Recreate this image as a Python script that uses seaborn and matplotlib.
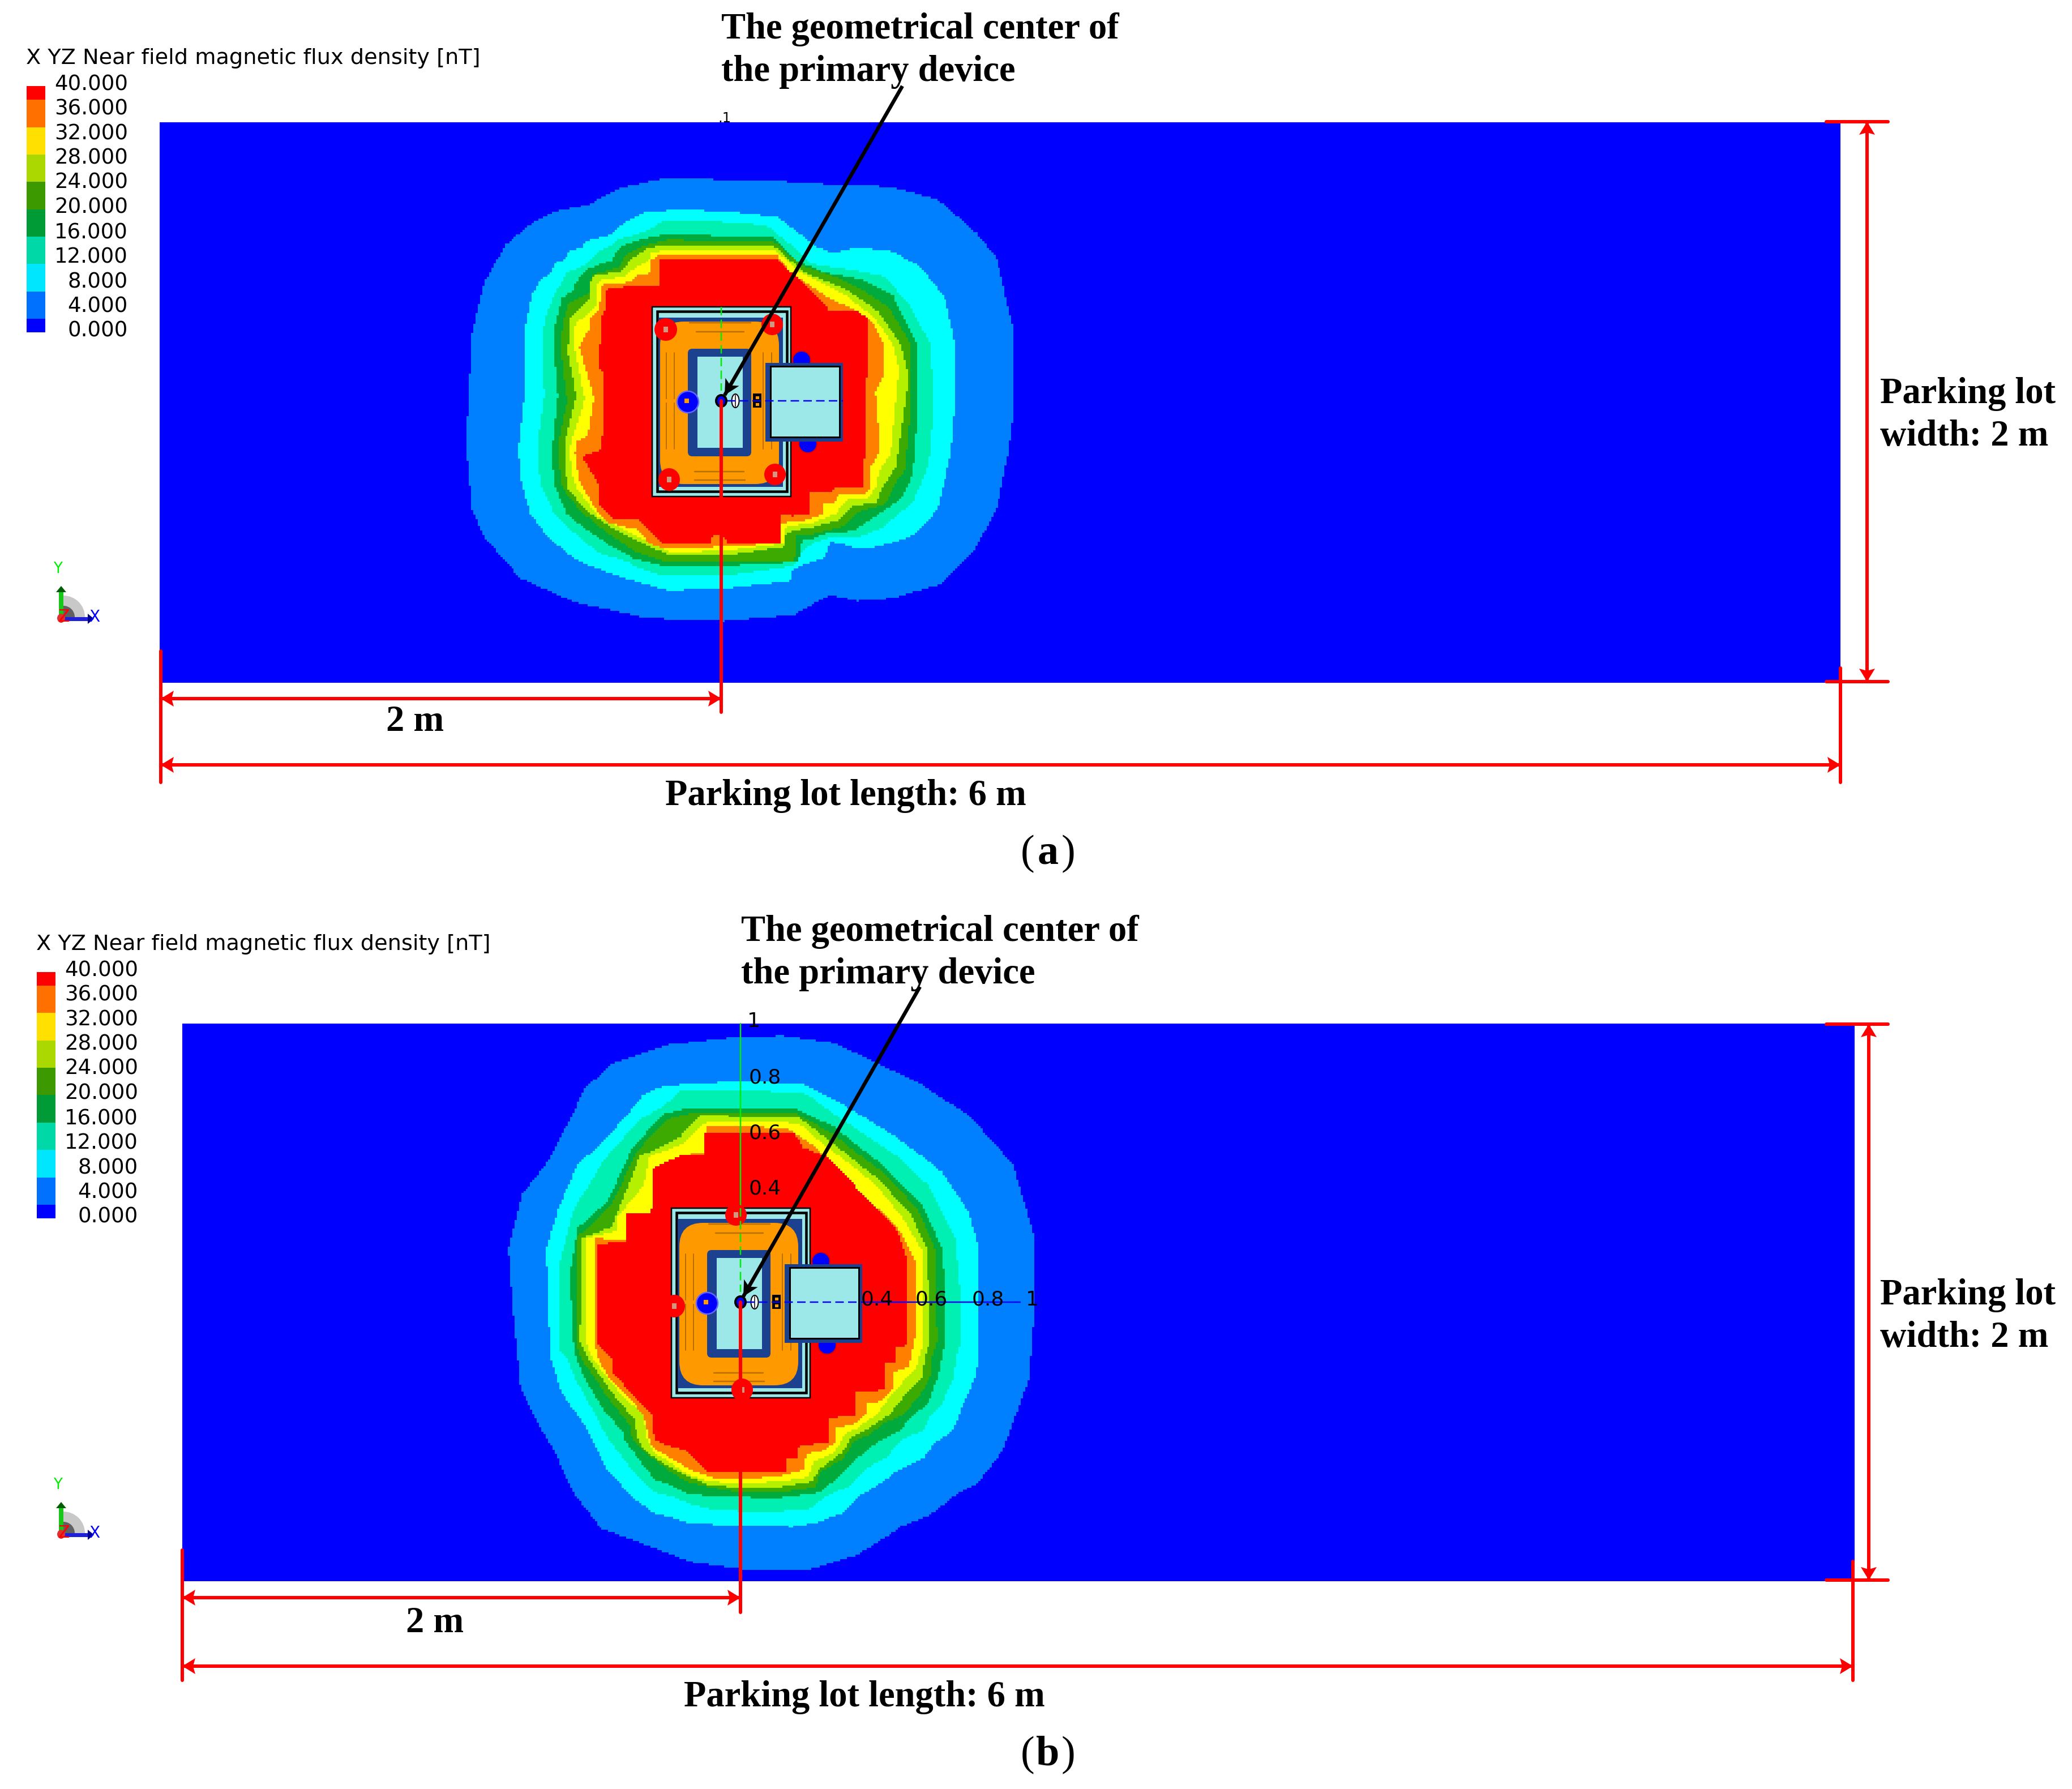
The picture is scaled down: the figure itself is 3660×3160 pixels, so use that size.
import numpy as np
import pandas as pd
import seaborn as sns
import matplotlib
matplotlib.use("Agg")
import matplotlib.pyplot as plt
from matplotlib.colors import ListedColormap
from matplotlib.path import Path
from matplotlib.patches import Rectangle, FancyBboxPatch, Ellipse, Wedge, Polygon

sns.set_theme(style="white")
plt.rcParams['font.family'] = ['DejaVu Sans']

# ---------------- data ----------------
LEVEL_LABELS = ["40.000", "36.000", "32.000", "28.000", "24.000", "20.000", "16.000", "12.000", "8.000", "4.000", "0.000"]
MAP_COLOURS = ["#0000FF", "#0080FF", "#00FFFF", "#00F0B4", "#00AA3C", "#3CAA00", "#B4F000", "#FFFF00", "#FF8000", "#FF0000"]
KEY_COLOURS = ["#0000FF", "#0070FF", "#00E6FF", "#00D8A8", "#009A36", "#3C9A00", "#AAD800", "#FFE000", "#FF7000", "#FF0000"]
KEY_ROWS = [9, 8, 8, 7, 7, 6, 6, 5, 5, 4, 4, 3, 3, 2, 2, 1, 1, 0]


def za(p):  # reading frame of the upper view
    return [(750 + x / 1.4255, 280 + y / 1.823) for x, y in p]


def zb(p):  # reading frame of the lower view
    return [(800 + x / 1.4255, 1780 + y / 1.522) for x, y in p]


def c(ox, oy, p):  # close-up reading frame
    return [(ox + x / 3, oy + y / 3) for x, y in p]


A_4 = za([(600,65),(760,68),(880,72),(1040,85),(1170,90),(1290,130),(1390,240),(1440,320),(1485,560),(1485,800),(1470,950),(1440,1130),(1380,1270),(1300,1370),(1180,1415),(1090,1425),(1020,1405),(930,1470),(750,1490),(560,1480),(380,1430),(240,1350),(150,1220),(120,1130),(105,920),(120,560),(150,400),(205,275),(280,200),(330,170),(410,150),(490,95)])
A_8 = za([(550,175),(640,165),(770,172),(890,190),(990,285),(1030,305),(1090,285),(1180,300),(1250,350),(1310,450),(1335,590),(1335,800)]) \
    + c(1400,800,[(840,0),(800,170),(770,290),(720,360),(640,430),(580,460),(460,495),(350,510),(270,485),(200,470),(165,560),(60,590),(0,620)]) \
    + za([(920,1360),(750,1385),(610,1390),(500,1350)]) \
    + c(880,700,[(140,0),(125,130),(110,260),(115,420),(170,620),(260,740),(350,820),(440,880),(490,900)][::-1]) \
    + c(880,400,[(140,900),(140,600),(150,500),(170,400),(180,360),(220,290),(280,245),(300,195),(350,175),(380,125),(440,115),(470,75),(590,45),(640,0)])
A_12 = za([(590,205),(700,200),(860,215),(935,290),(975,340),(1080,360),(1160,380),(1220,470),(1275,600),(1280,800)]) \
    + c(1400,800,[(730,0),(710,90),(635,270),(555,330),(470,400),(350,445),(210,440),(105,480),(50,530),(20,590),(0,600)]) \
    + za([(750,1345),(600,1345)]) \
    + c(880,700,[(245,0),(225,130),(210,240),(210,350),(230,480),(295,620),(400,720),(530,830),(700,880),(720,900)][::-1]) \
    + c(880,400,[(245,900),(232,700),(232,570),(255,470),(300,350),(340,290),(355,250),(440,215),(500,170),(530,130),(600,100),(630,70),(740,40),(790,20),(830,0)])
A_16 = za([(880,255),(940,330),(1000,365),(1100,390),(1180,440),(1240,600),(1240,800)]) \
    + c(1400,800,[(650,0),(630,130),(580,240),(495,300),(400,360),(320,415),(190,420),(100,455),(50,465),(40,540),(20,580),(0,580)]) \
    + za([(750,1312),(650,1310)]) \
    + c(880,700,[(315,0),(295,180),(285,300),(295,470),(360,620),(460,700),(590,790),(720,860),(860,895)][::-1]) \
    + c(880,400,[(315,900),(300,720),(300,520),(330,400),(335,380),(400,340),(410,300),(465,230),(600,180),(640,110),(750,70),(870,45),(900,40)])
A_20 = za([(880,268),(950,345),(1040,385),(1100,420),(1170,480),(1225,600),(1225,800)]) \
    + c(1400,800,[(605,0),(595,90),(540,170),(495,270),(355,310),(270,390),(100,430),(20,440),(20,545),(0,575)]) \
    + za([(750,1295)]) \
    + c(880,700,[(370,0),(325,210),(320,340),(340,490),(440,610),(560,710),(720,820),(900,880)][::-1]) \
    + c(880,400,[(360,900),(330,640),(340,520),(370,410),(480,355),(495,260),(640,215),(680,150),(770,100),(900,70)])
A_24 = za([(880,282),(960,370),(1060,420),(1140,490),(1200,600),(1220,700)]) \
    + c(1400,800,[(560,0),(550,70),(495,150),(470,200),(440,265),(320,280),(250,355),(100,395),(0,412)]) \
    + za([(910,1210),(910,1250),(750,1280)]) \
    + c(880,700,[(415,0),(350,250),(350,350),(370,490),(470,610),(590,690),(790,790),(900,840)][::-1]) \
    + c(880,400,[(415,900),(370,660),(385,480),(480,385),(490,300),(510,260),(650,240),(710,170),(800,110),(900,100)])
A_28 = za([(885,298),(945,365),(1060,440),(1130,510),(1180,600),(1195,680)]) \
    + c(1400,800,[(520,0),(455,100),(445,180),(400,240),(290,250),(230,320),(110,370),(0,385)]) \
    + za([(905,1190),(905,1240),(750,1265)]) \
    + c(880,700,[(465,0),(380,270),(390,400),(420,490),(530,640),(630,690),(790,770),(900,825)][::-1]) \
    + c(880,400,[(455,900),(400,610),(410,520),(520,420),(520,310),(550,280),(660,270),(750,205),(800,180),(810,140),(900,120)])
A_32 = za([(888,312),(920,365),(1020,450),(1090,490),(1130,530),(1155,600),(1155,700),(1135,750),(1145,900)]) \
    + c(1400,800,[(460,0),(415,70),(415,190),(380,215),(250,220),(215,265),(160,270),(160,325),(60,360),(0,365)]) \
    + za([(895,1175),(895,1240),(750,1250)]) \
    + c(880,700,[(510,0),(475,210),(420,240),(408,300),(430,450),(530,620),(580,670),(740,705),(800,780),(870,805),(900,810)][::-1]) \
    + c(880,400,[(505,900),(430,635),(490,530),(490,480),(535,445),(545,335),(555,310),(700,295),(740,255),(800,255),(805,180),(855,150),(900,150)])
A_36 = za([(888,325),(970,420),(1020,490),(1090,490),(1115,515),(1115,700),(1110,720),(1110,900)]) \
    + c(1400,800,[(390,0),(378,40),(375,185),(225,188),(210,208),(92,210),(92,330),(0,333)]) \
    + za([(895,1150),(895,1240),(765,1240),(745,1210),(725,1210),(722,1240),(650,1240)]) \
    + c(880,700,[(555,0),(555,170),(545,285),(445,320),(530,460),(540,580),(600,645),(740,650),(880,785),(900,785)][::-1]) \
    + c(880,400,[(552,900),(552,770),(530,740),(530,640),(550,605),(550,475),(570,425),(575,335),(730,310),(855,310),(855,175),(900,172)])

B_4 = zb([(700,80),(830,75),(960,95),(1070,150),(1170,200),(1300,290),(1410,420),(1465,620),(1465,800),(1450,1000),(1385,1190)]) \
    + c(1300,2400,[(1350,570),(1280,660),(1180,710),(1100,775),(1020,830),(870,890),(865,900)]) \
    + zb([(1020,1470),(900,1510),(730,1510),(600,1490),(450,1430)]) \
    + c(980,2400,[(245,900),(170,800),(110,730),(50,610),(0,490)]) \
    + zb([(220,1130),(170,1020),(150,800),(140,650),(175,500),(235,420),(300,290),(330,220),(400,150),(540,100)])
B_8 = zb([(720,198),(880,205),(990,265),(1120,350),(1230,440),(1300,550),(1325,650),(1325,900)]) \
    + c(1300,2400,[(1285,0),(1270,100),(1200,250),(1150,380),(1050,450),(990,530),(860,590),(750,670),(650,730),(560,820),(420,870),(300,890),(110,885),(0,880)]) \
    + c(980,2400,[(975,885),(790,875),(690,865),(640,845),(530,820),(420,740),(380,700),(280,590),(200,430),(150,340),(30,170),(0,60)]) \
    + zb([(245,940),(235,650),(265,540),(315,420),(380,360),(480,235),(530,210)])
B_12 = zb([(720,220),(890,232),(980,300),(1120,400),(1200,480),(1265,620),(1280,800),(1280,900)]) \
    + c(1300,2400,[(1165,0),(1155,100),(1090,240),(1030,300),(990,380),(880,430),(800,520),(680,590),(590,680),(480,730),(380,800),(110,815),(0,810)]) \
    + c(980,2400,[(975,805),(830,800),(720,770),(620,730),(530,710),(410,590),(280,420),(160,200),(120,130),(65,0)]) \
    + zb([(265,920),(265,700),(305,540),(380,410),(470,300),(530,265),(570,225)])
B_16 = zb([(860,270),(960,320),(1090,430),(1180,530),(1235,650),(1240,900)]) \
    + c(1300,2400,[(1090,0),(1070,100),(1020,235),(940,300),(870,380),(770,430),(700,480),(610,560),(530,640),(440,710),(250,735),(140,745),(70,735),(0,730)]) \
    + c(980,2400,[(975,732),(820,730),(680,710),(640,680),(530,640),(450,540),(370,430),(360,390),(260,270),(170,130),(115,0)]) \
    + zb([(305,920),(295,720),(315,590),(390,520),(450,380),(530,285),(600,268)])
B_20 = zb([(860,282),(950,335),(1080,440),(1170,540),(1215,650),(1220,900)]) \
    + c(1300,2400,[(1035,0),(1030,100),(970,200),(880,300),(790,340),(700,405),(620,440),(570,530),(450,600),(420,680),(300,700),(0,710)]) \
    + c(980,2400,[(975,708),(810,680),(700,650),(600,590),(470,490),(410,430),(395,350),(270,190),(140,0)]) \
    + zb([(310,900),(310,620),(400,530),(460,390),(540,300),(610,280)])
B_24 = zb([(870,295),(940,350),(1070,460),(1150,550),(1195,650),(1200,900)]) \
    + c(1300,2400,[(1000,0),(985,100),(890,200),(810,300),(700,370),(610,420),(560,500),(440,590),(400,650),(230,680),(0,682)]) \
    + c(980,2400,[(975,682),(820,670),(700,620),(600,570),(505,510),(445,440),(420,320),(320,200),(175,0)]) \
    + zb([(320,900),(325,620),(400,590),(470,400),(570,350),(620,290)])
B_28 = zb([(870,310),(930,365),(1060,470),(1130,560),(1185,660),(1185,900)]) \
    + c(1300,2400,[(965,0),(955,50),(880,130),(800,220),(740,300),(640,370),(575,400),(520,500),(410,545),(385,625),(250,650),(0,658)]) \
    + c(980,2400,[(975,658),(820,650),(710,615),(610,550),(530,500),(490,420),(465,290),(360,200),(200,0)]) \
    + zb([(335,900),(335,620),(415,600),(415,560),(480,480),(495,400),(580,365),(640,305)])
B_32 = zb([(840,322),(920,380),(1030,500),(1120,590),(1165,680),(1165,880)]) \
    + c(1300,2400,[(925,0),(915,40),(835,75),(835,155),(770,225),(690,235),(690,295),(620,350),(525,365),(525,440),(475,485),(375,505),(355,590),(210,628),(0,632)]) \
    + c(980,2400,[(975,632),(840,630),(730,595),(680,565),(530,480),(505,440),(475,310),(440,260),(290,100),(230,0)]) \
    + zb([(355,900),(355,640),(360,620),(435,625),(435,555),(500,550),(505,430),(580,395),(635,390),(640,320)])
B_36 = zb([(635,335),(860,335),(880,375),(940,400),(1060,530),(1120,600),(1145,680),(1145,908),(1115,915),(1115,955)]) \
    + c(1300,2400,[(785,25),(785,165),(640,180),(640,300),(490,315),(487,445),(335,460),(325,530),(265,535),(265,600),(0,603)]) \
    + c(980,2400,[(975,603),(810,603),(685,480),(620,465),(535,435),(525,400),(515,290),(380,155),(305,70),(305,0)]) \
    + zb([(365,905),(365,635),(435,630),(435,555),(500,550),(505,430),(580,395),(635,395)])

A_OUTLINES = [A_4, A_8, A_12, A_16, A_20, A_24, A_28, A_32, A_36]
B_OUTLINES = [B_4, B_8, B_12, B_16, B_20, B_24, B_28, B_32, B_36]

LOT_LENGTH_M = 6.0
LOT_WIDTH_M = 2.0
CELL_M = 0.008

PLOT_TICKS_Y = ["0.8", "0.6", "0.4"]
PLOT_TICKS_X = ["0.4", "0.6", "0.8", "1"]

W, H = 3660, 3160
fig = plt.figure(figsize=(W / 100, H / 100), dpi=100, facecolor="white")
PT = 0.72


def px_axes(x0, y0, x1, y1, **kw):
    return fig.add_axes([x0 / W, 1 - y1 / H, (x1 - x0) / W, (y1 - y0) / H], **kw)


def field_from_outlines(outlines, lot):
    x0, y0, x1, y1 = lot
    nx, ny = int(round(LOT_LENGTH_M / CELL_M)), int(round(LOT_WIDTH_M / CELL_M))
    xs = (np.arange(nx) + 0.5) * CELL_M
    ys = (np.arange(ny) + 0.5) * CELL_M
    gx, gy = np.meshgrid(xs, ys)
    pts = np.column_stack([gx.ravel(), gy.ravel()])
    field = np.zeros(gx.shape, dtype=int)
    for i, outline in enumerate(outlines):
        px = np.asarray(outline, float)
        metres = np.column_stack([(px[:, 0] - x0) / (x1 - x0) * LOT_LENGTH_M,
                                  (px[:, 1] - y0) / (y1 - y0) * LOT_WIDTH_M])
        inside = Path(metres).contains_points(pts).reshape(gx.shape)
        field[inside] = i + 1
    return pd.DataFrame(field, index=ys, columns=xs)


def draw_lot(outlines, lot):
    ax = px_axes(*lot)
    sns.heatmap(field_from_outlines(outlines, lot), ax=ax, cmap=ListedColormap(MAP_COLOURS),
                vmin=-0.5, vmax=9.5, cbar=False, xticklabels=False, yticklabels=False, rasterized=True)
    ax.set_xlabel("")
    ax.set_ylabel("")


def draw_key(dx, dy):
    ax = px_axes(47 + dx, 152 + dy, 80 + dx, 587 + dy)
    rows = pd.DataFrame({"level": KEY_ROWS})
    sns.heatmap(rows, ax=ax, cmap=ListedColormap(KEY_COLOURS), vmin=-0.5, vmax=9.5, cbar=False,
                xticklabels=False, yticklabels=False)
    ax.set_xlabel("")
    ax.set_ylabel("")


draw_lot(A_OUTLINES, (282, 216, 3251, 1206))
draw_lot(B_OUTLINES, (322, 1808, 3276, 2793))

draw_key(0, 0)
draw_key(18, 1565)

ov = fig.add_axes([0, 0, 1, 1], facecolor="none")
ov.set_xlim(0, W)
ov.set_ylim(H, 0)
ov.axis("off")

NAVY = "#1C418F"
PALE = "#9CE8E8"
ORANGE = "#FF9900"
DORANGE = "#B87000"


def rect(cx, cy, l, r, t, b, fc, ec="none", lw=0, z=5):
    ov.add_patch(Rectangle((cx + l, cy + t), r - l, b - t, fc=fc, ec=ec, lw=lw * PT, zorder=z))


def rrect(cx, cy, l, r, t, b, rad, fc, z=5):
    ov.add_patch(FancyBboxPatch((cx + l + rad, cy + t + rad), r - l - 2 * rad, b - t - 2 * rad,
                                boxstyle=f"round,pad={rad},rounding_size={rad}", fc=fc, ec="none", zorder=z))


def dot(x, y, rx, ry, fc, ec="none", lw=0, z=7):
    ov.add_patch(Ellipse((x, y), 2 * rx, 2 * ry, fc=fc, ec=ec, lw=lw * PT, zorder=z))


def device(cx, cy, reds):
    rect(cx, cy, -122, 123, -166, 169, PALE, "black", 2.5)
    rect(cx, cy, -113, 116, -158, 160, PALE, "black", 4.5)
    rect(cx, cy, -111, 109, -147, 152, NAVY)
    rrect(cx, cy, -108, 102, -140, 147, 42, ORANGE, 6)
    for xr in (-97, -83, 74, 89):
        ov.plot([cx + xr] * 2, [cy - 85, cy + 85], color=DORANGE, lw=2 * PT, zorder=7)
    for yr, l, r in ((-122, -44, 40), (-138, -56, 52), (125, -47, 40), (140, -47, 42)):
        ov.plot([cx + l, cx + r], [cy + yr] * 2, color=DORANGE, lw=2.5 * PT, zorder=7)
    rrect(cx, cy, -59, 53, -92, 98, 8, NAVY, 7)
    rect(cx, cy, -42, 38, -78, 83, PALE, z=8)
    rect(cx, cy, -108, -64, -3, 3, ORANGE, z=8)
    dot(cx - 59, cy + 2, 19, 19, "#0000FF", "#6666FF", 2.5, 8)
    rect(cx, cy, -65, -57, -4, 4, ORANGE, z=9)
    for (rx, ry, a, b) in reds:
        dot(cx + rx, cy + ry, a, b, "#FF0000", z=9)
        rect(cx, cy, rx - 4, rx + 4, ry - 5, ry + 5, "#D09880", z=10)
    dot(cx + 142, cy - 72, 16, 16, "#0000FF", "#E00000", 2, 7)
    dot(cx + 153, cy + 76, 16, 16, "#0000FF", "#E00000", 2, 7)
    rect(cx, cy, 78, 215, -67, 72, NAVY, z=11)
    rect(cx, cy, 87, 209, -61, 64, PALE, "black", 3, 12)
    ov.plot([cx, cx], [cy - 166, cy - 18], color="#00EE00", lw=2.5 * PT, dashes=(6, 3), zorder=9)
    ov.plot([cx + 10, cx + 215], [cy, cy], color="#0000FF", lw=2.5 * PT, dashes=(6, 3), zorder=13)
    rect(cx, cy, 56, 71, -13, 12, "black", z=9)
    rect(cx, cy, 61, 67, -8, -3, ORANGE, z=10)
    rect(cx, cy, 61, 67, 4, 9, ORANGE, z=10)
    dot(cx + 25, cy, 6.5, 12, "white", "black", 2, 9)
    ov.plot([cx + 25, cx + 25], [cy - 10, cy + 10], color="black", lw=1.5 * PT, zorder=10)
    dot(cx, cy, 9, 10, "#0000FF", "black", 4, 14)


device(1274, 708, [(-98, -126, 20, 20), (90, -135, 19, 19), (-92, 139, 19, 20), (95, 130, 19, 19)])
device(1308, 2300, [(-8, -154, 19, 19), (-117, 7, 19, 20), (3, 155, 19, 20)])


def head(tip, tail, length, half, notch, colour, z):
    tip = np.array(tip, float)
    u = tip - np.array(tail, float)
    u /= np.hypot(*u)
    n = np.array([-u[1], u[0]])
    ov.add_patch(Polygon([tip, tip - u * length + n * half, tip - u * notch, tip - u * length - n * half],
                         closed=True, fc=colour, ec="none", zorder=z))


def red_line(xs, ys, z=15):
    ov.plot(xs, ys, color="#FF0000", lw=6 * PT, solid_capstyle="round", zorder=z)


def red_arrow(a, b):
    red_line([a[0], b[0]], [a[1], b[1]], 16)
    head(a, b, 23, 14, 19, "#FF0000", 16)
    head(b, a, 23, 14, 19, "#FF0000", 16)


def dimensions(left, centre, right, top, bottom, cy, left_top, right_top, low, two_y, two_low, len_y, vx):
    red_line([3226, 3335], [top, top])
    red_line([3226, 3335], [bottom, bottom])
    red_arrow((vx, top), (vx, bottom))
    red_line([left, left], [left_top, low])
    red_line([centre, centre], [cy, two_low])
    red_line([right, right], [right_top, low])
    red_arrow((left, two_y), (centre, two_y))
    red_arrow((left, len_y), (right, len_y))


dimensions(284, 1274, 3251, 215, 1204, 708, 1150, 1180, 1382, 1234, 1258, 1351, 3298)
dimensions(322, 1308, 3273, 1809, 2791, 2300, 2738, 2758, 2968, 2822, 2848, 2943, 3301)

SERIF = dict(family="Liberation Serif", fontweight="bold", color="black", zorder=20)
FS = 64.5 * PT


def caption(x, y, text, ha="left", **kw):
    ov.text(x, y + 3, text, ha=ha, va="center", fontsize=FS, **SERIF, **kw)


def black_arrow(tip, tail):
    ov.plot([tail[0], tip[0]], [tail[1], tip[1]], color="black", lw=6.5 * PT, solid_capstyle="butt", zorder=18)
    head(tip, tail, 27, 14, 20, "black", 18)


def panel_letter(x, y, letter):
    ov.text(x - 36, y, "(", ha="center", va="center", fontsize=FS * 1.15, family="Liberation Serif", color="black")
    ov.text(x, y, letter, ha="center", va="center", fontsize=FS * 1.15, **SERIF)
    ov.text(x + 36, y, ")", ha="center", va="center", fontsize=FS * 1.15, family="Liberation Serif", color="black")


caption(1274, 49, "The geometrical center of")
caption(1274, 124, "the primary device")
black_arrow((1280, 698), (1594, 152))
caption(3321, 693, "Parking lot")
caption(3321, 768, "width: 2 m")
caption(733, 1272, "2 m", "center")
caption(1494, 1403, "Parking lot length: 6 m", "center")
panel_letter(1851, 1508, "a")

caption(1309, 1643, "The geometrical center of")
caption(1309, 1718, "the primary device")
black_arrow((1313, 2290), (1625, 1743))
caption(3321, 2285, "Parking lot")
caption(3321, 2360, "width: 2 m")
caption(768, 2864, "2 m", "center")
caption(1527, 2995, "Parking lot length: 6 m", "center")
panel_letter(1851, 3100, "b")


def key_text(dx, dy):
    ov.text(46 + dx, 103 + dy, "X YZ Near field magnetic flux density [nT]", ha="left", va="center",
            fontsize=38.2 * PT, color="black", zorder=20)
    ys = [149, 192, 236, 279, 322, 366, 411, 454, 498, 541, 584]
    for lab, y in zip(LEVEL_LABELS, ys):
        ov.text(226 + dx, y + dy, lab, ha="right", va="center", fontsize=37 * PT, color="black", zorder=20)


key_text(0, 0)
key_text(18, 1565)


def triad(dy):
    ov.add_patch(Wedge((112, 1090 + dy), 38, 270, 360, fc="#C8C8C8", ec="none", zorder=5))
    ov.add_patch(Wedge((112, 1090 + dy), 20, 270, 360, fc="#606060", ec="none", zorder=6))
    ov.plot([108, 108], [1095 + dy, 1045 + dy], color="#18C818", lw=8 * PT, zorder=7, solid_capstyle="butt")
    ov.add_patch(Polygon([(99, 1046 + dy), (117, 1046 + dy), (108, 1035 + dy)], fc="#006000", ec="none", zorder=8))
    ov.plot([112, 158], [1093 + dy, 1093 + dy], color="#2020D8", lw=7 * PT, zorder=7, solid_capstyle="butt")
    ov.add_patch(Polygon([(155, 1084 + dy), (155, 1102 + dy), (166, 1093 + dy)], fc="#000090", ec="none", zorder=8))
    ov.add_patch(Ellipse((108, 1092 + dy), 14, 16, fc="#E03030", ec="none", zorder=9))
    ov.text(102, 1005 + dy, "Y", color="#00EE00", fontsize=26 * PT, ha="center", va="center", zorder=10)
    ov.text(167, 1090 + dy, "X", color="#0000FF", fontsize=28 * PT, ha="center", va="center", zorder=10)
    ov.text(113, 1089 + dy, "Z", color="#FF0000", fontsize=30 * PT, ha="center", va="center", zorder=10)


triad(0)
triad(1618)

ov.plot([1308, 1308], [1808, 2130], color="#00EE00", lw=2.5 * PT, zorder=6)
ov.plot([1523, 1802], [2300, 2300], color="#0000FF", lw=2.5 * PT, zorder=6)
for lab, y in zip(PLOT_TICKS_Y, [1903, 2001, 2100]):
    ov.text(1351, y, lab, ha="center", va="center", fontsize=36 * PT, color="black", zorder=14)
ov.text(1331, 1804, "1", ha="center", va="center", fontsize=36 * PT, color="black", zorder=14)
for lab, x in zip(PLOT_TICKS_X, [1549, 1645, 1745, 1823]):
    ov.text(x, 2296, lab, ha="center", va="center", fontsize=36 * PT, color="black", zorder=14)
ov.text(1280, 209, ".1", ha="center", va="center", fontsize=24 * PT, color="black", zorder=14)

fig.savefig("out.png", dpi=100, facecolor="white")
